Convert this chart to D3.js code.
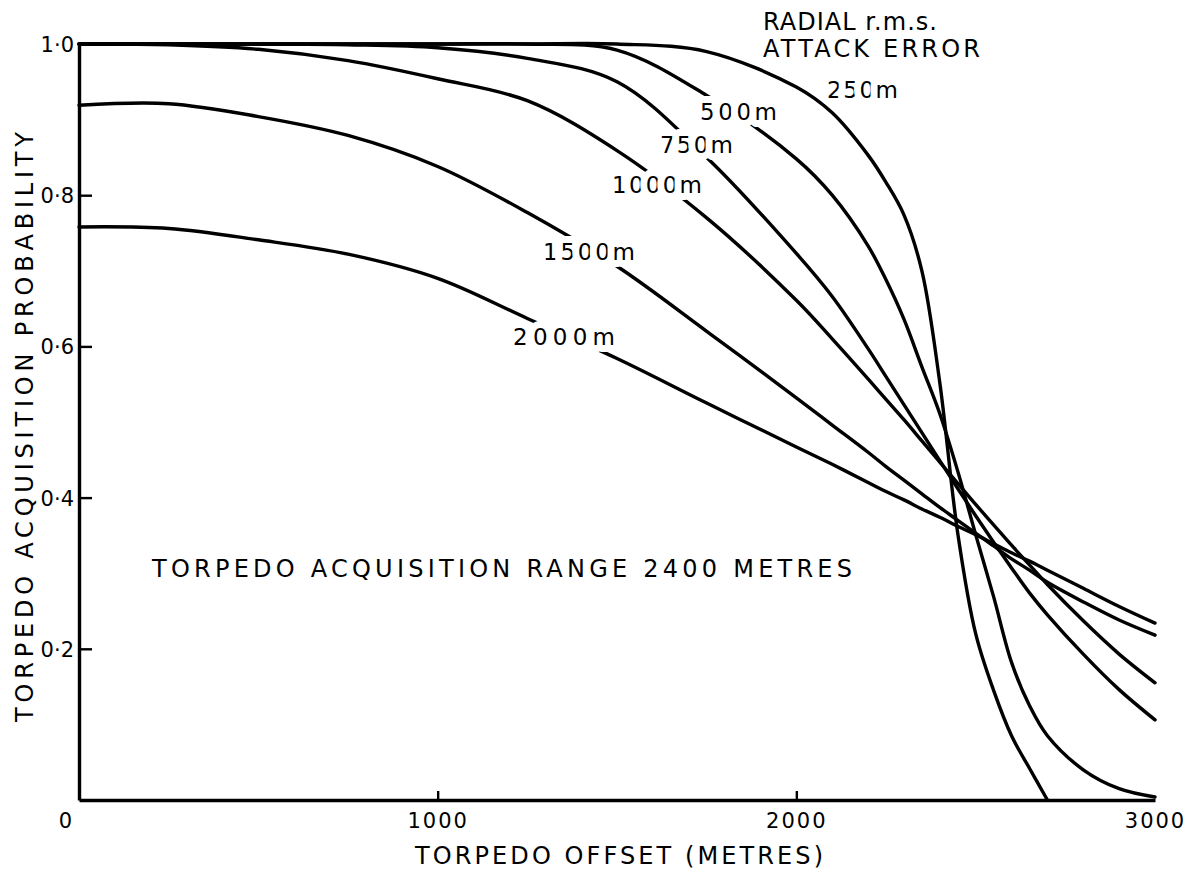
<!DOCTYPE html>
<html>
<head>
<meta charset="utf-8">
<script src="https://cdn.jsdelivr.net/npm/d3@7/dist/d3.min.js"></script>
<style>
  body { margin: 0; background: #fff; }
  text { font-family: "DejaVu Sans", sans-serif; fill: #000; }
</style>
</head>
<body>
<div id="chart"></div>
<script>
// torpedo acquisition probability vs offset, one curve per radial r.m.s. attack error
var width = 1203, height = 876;

var offsets = [0, 250, 500, 750, 1000, 1250, 1500, 1750, 2000, 2100, 2200, 2250, 2300, 2350,
               2400, 2450, 2500, 2550, 2600, 2650, 2700, 2800, 2900, 3000];

var errors = ['250m', '500m', '750m', '1000m', '1500m', '2000m'];

var p250  = [1, 1, 1, 1, 1, 1, 1, 0.99, 0.943, 0.909, 0.853, 0.817, 0.774, 0.7,
             0.552, 0.353, 0.22, 0.145, 0.085, 0.042, 0, null, null, null];
var p500  = [1, 1, 1, 1, 1, 1, 0.992, 0.932, 0.848, 0.80, 0.733, 0.688, 0.636, 0.573,
             0.511, 0.435, 0.351, 0.269, 0.182, 0.125, 0.085, 0.04, 0.015, 0.004];
var p750  = [1, 1, 1, 0.999, 0.995, 0.981, 0.95, 0.85, 0.723, 0.666, 0.597, 0.56, 0.523, 0.486,
             0.449, 0.412, 0.376, 0.341, 0.307, 0.274, 0.245, 0.193, 0.146, 0.106];
var p1000 = [1, 0.999, 0.993, 0.978, 0.954, 0.925, 0.859, 0.77, 0.661, 0.61, 0.557, 0.53, 0.503, 0.475,
             0.447, 0.419, 0.391, 0.364, 0.337, 0.311, 0.285, 0.237, 0.193, 0.155];
var p1500 = [0.919, 0.921, 0.904, 0.879, 0.838, 0.777, 0.706, 0.62, 0.532, 0.496, 0.46, 0.441, 0.423, 0.405,
             0.387, 0.37, 0.353, 0.336, 0.319, 0.304, 0.288, 0.262, 0.238, 0.218];
var p2000 = [0.758, 0.756, 0.741, 0.722, 0.69, 0.637, 0.584, 0.525, 0.467, 0.444, 0.42, 0.408, 0.397, 0.385,
             0.374, 0.362, 0.351, 0.339, 0.327, 0.316, 0.304, 0.28, 0.256, 0.234];

var series = [p250, p500, p750, p1000, p1500, p2000];

var xTicks = [0, 1000, 2000, 3000];
var yTicks = [0.2, 0.4, 0.6, 0.8, 1.0];

var svg = d3.select('#chart').append('svg')
  .attr('width', width)
  .attr('height', height);

var x = d3.scaleLinear().domain([0, 3000]).range([79, 1155]);
var y = d3.scaleLinear().domain([0, 1]).range([800, 44]);

var line = d3.line()
  .defined(function(d) { return d[1] != null; })
  .x(function(d) { return x(d[0]); })
  .y(function(d) { return y(d[1]); })
  .curve(d3.curveCatmullRom.alpha(0.5));

// curves
svg.append('g')
  .selectAll('path')
  .data(series)
  .enter().append('path')
    .attr('d', function(s) { return line(offsets.map(function(o, i) { return [o, s[i]]; })); })
    .attr('fill', 'none')
    .attr('stroke', '#000')
    .attr('stroke-width', 3.4)
    .attr('stroke-linecap', 'round');

// axes
var yAxis = d3.axisLeft(y)
  .tickValues(yTicks)
  .tickSize(-13)
  .tickSizeOuter(0)
  .tickPadding(5)
  .tickFormat(function(d) { return d3.format('.1f')(d).replace('.', '\u00b7'); });

var gy = svg.append('g').attr('transform', 'translate(79,0)').call(yAxis);

var xAxis = d3.axisBottom(x)
  .tickValues(xTicks)
  .tickSize(-9)
  .tickSizeOuter(0)
  .tickPadding(13)
  .tickFormat(d3.format('d'));

var gx = svg.append('g').attr('transform', 'translate(0,800)').call(xAxis);

[gx, gy].forEach(function(g) {
  g.select('.domain').attr('stroke', '#000').attr('stroke-width', 3.4);
  g.selectAll('.tick line').attr('stroke', '#000').attr('stroke-width', 2.4);
  g.selectAll('.tick text')
    .attr('font-family', '"DejaVu Sans", sans-serif')
    .attr('font-size', 21)
    .attr('fill', '#000');
});
gx.selectAll('.tick text').attr('letter-spacing', 2);
gx.selectAll('.tick').filter(function(d) { return d === 0 || d === 3000; }).select('line').remove();
gx.selectAll('.tick').filter(function(d) { return d === 0; }).select('text').attr('x', -13);
gy.selectAll('.tick text').attr('dy', '0.36em');

// curve labels, white halo breaks the line under them
var labelPos = [[827, 98], [700, 120], [660, 153], [612, 193], [543, 260], [513, 345]];
var labelW = [71, 77, 73, 90, 92, 102];

svg.append('g')
  .selectAll('text')
  .data(errors)
  .enter().append('text')
    .attr('x', function(d, i) { return labelPos[i][0]; })
    .attr('y', function(d, i) { return labelPos[i][1]; })
    .attr('textLength', function(d, i) { return labelW[i]; })
    .attr('lengthAdjust', 'spacing')
    .attr('font-size', 23)
    .attr('stroke', '#fff')
    .attr('stroke-width', 14)
    .attr('stroke-linejoin', 'round')
    .style('paint-order', 'stroke')
    .text(function(d) { return d; });

function label(txt, x0, yb, w, size) {
  return svg.append('text')
    .attr('x', x0).attr('y', yb)
    .attr('textLength', w)
    .attr('lengthAdjust', 'spacing')
    .attr('font-size', size)
    .text(txt);
}

label('RADIAL r.m.s.', 763, 30, 174, 24);
label('ATTACK ERROR', 763, 57, 217, 24);
label('TORPEDO ACQUISITION RANGE 2400 METRES', 152, 577, 700, 24);
label('TORPEDO OFFSET (METRES)', 415, 864, 408, 24);

svg.append('text')
  .attr('transform', 'translate(33,722) rotate(-90)')
  .attr('textLength', 590)
  .attr('lengthAdjust', 'spacing')
  .attr('font-size', 24)
  .text('TORPEDO ACQUISITION PROBABILITY');
</script>
</body>
</html>
